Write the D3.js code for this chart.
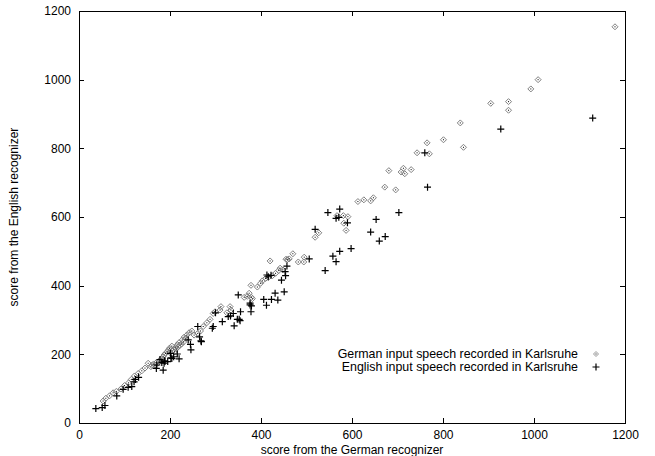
<!DOCTYPE html>
<html><head><meta charset="utf-8">
<script src="https://cdn.jsdelivr.net/npm/d3@7/dist/d3.min.js"></script>
<style>
html,body{margin:0;padding:0;background:#fff;}
svg{display:block;font-family:"Liberation Sans",Arial,Helvetica,sans-serif;}
</style></head>
<body>
<svg id="chart" width="655" height="456"></svg>
<script>
const xTicks = [0, 200, 400, 600, 800, 1000, 1200];
const yTicks = [0, 200, 400, 600, 800, 1000, 1200];
const xLabel = "score from the German recognizer";
const yLabel = "score from the English recognizer";
const seriesNames = ["German input speech recorded in Karlsruhe", "English input speech recorded in Karlsruhe"];

const germanX = [53,59,67,75,82,92,100,109,115,122,130,138,145,152,158,160,164,167,170,173,176,180,182,185,187,190,195,196,199,200,204,205,208,210,212,214,216,218,220,222,225,227,230,231,235,237,242,248,253,261,267,273,281,288,295,299,310,312,325,332,334,363,370,374,379,381,378,392,399,403,410,416,420,425,432,439,442,448,455,458,462,470,482,494,495,519,527,567,581,591,582,587,613,626,641,647,672,696,681,708,713,716,730,743,765,770,801,838,845,905,944,944,993,1009,1178];
const germanY = [64,72,79,88,92,99,109,117,127,137,144,152,160,174,164,168,172,169,176,174,181,186,188,193,198,203,208,212,218,205,224,210,214,207,220,216,228,222,234,226,230,242,236,250,247,256,263,268,256,261,268,281,292,302,319,324,329,339,321,339,329,366,369,378,366,362,401,396,407,414,421,424,472,429,436,444,451,446,477,476,478,493,469,469,483,541,554,604,604,601,582,561,645,650,647,656,687,679,735,731,742,726,738,787,816,784,825,874,803,931,936,911,973,1000,1154];

const englishX = [37,51,57,83,97,108,116,121,124,131,170,171,185,182,188,195,178,187,189,201,204,208,216,220,202,245,246,240,269,265,268,261,293,295,315,300,328,333,339,341,350,352,354,348,355,378,376,379,376,406,412,423,437,431,451,413,416,422,445,454,457,453,506,541,565,558,573,598,519,547,573,565,571,590,653,641,660,673,703,760,766,927,1129];
const englishY = [42,45,51,79,98,104,106,120,127,133,159,169,154,176,181,179,185,174,179,203,188,193,201,187,190,229,213,242,237,251,239,281,276,281,295,321,310,312,319,283,373,302,298,302,324,324,344,341,349,360,343,360,358,378,382,431,426,430,416,429,457,441,478,444,470,486,500,508,564,613,623,596,599,583,593,556,530,543,613,787,687,856,888];

const svg = d3.select("#chart");
const x = d3.scaleLinear().domain([0, 1200]).range([79, 625]);
const y = d3.scaleLinear().domain([0, 1200]).range([423, 11]);
const tk = 5;

const axFont = g => g.attr("font-family", "Liberation Sans, Arial, sans-serif").attr("font-size", 12);

// bottom axis
svg.append("g").attr("transform", `translate(0,${y(0)})`)
  .call(d3.axisBottom(x).tickValues(xTicks).tickSize(-tk).tickPadding(7).tickFormat(d3.format("d")))
  .call(axFont)
  .call(g => g.select(".domain").remove())
  .call(g => g.selectAll("text").attr("fill", "#000"));
// top axis (mirror)
svg.append("g").attr("transform", `translate(0,${y(1200)})`)
  .call(d3.axisTop(x).tickValues(xTicks).tickSize(-tk).tickFormat(""))
  .call(g => g.select(".domain").remove());
// left axis
svg.append("g").attr("transform", `translate(${x(0)},0)`)
  .call(d3.axisLeft(y).tickValues(yTicks).tickSize(-tk).tickPadding(8).tickFormat(d3.format("d")))
  .call(axFont)
  .call(g => g.select(".domain").remove())
  .call(g => g.selectAll("text").attr("fill", "#000"));
// right axis (mirror)
svg.append("g").attr("transform", `translate(${x(1200)},0)`)
  .call(d3.axisRight(y).tickValues(yTicks).tickSize(-tk).tickFormat(""))
  .call(g => g.select(".domain").remove());

svg.selectAll(".tick line").attr("stroke", "#000").attr("shape-rendering", "crispEdges");

// border
svg.append("rect")
  .attr("x", x(0)).attr("y", y(1200))
  .attr("width", x(1200) - x(0)).attr("height", y(0) - y(1200))
  .attr("fill", "none").attr("stroke", "#000").attr("stroke-width", 1)
  .attr("shape-rendering", "crispEdges");

// axis titles
svg.append("text").attr("x", (x(0) + x(1200)) / 2).attr("y", 454)
  .attr("text-anchor", "middle").attr("font-size", 12).attr("fill", "#000").text(xLabel);
svg.append("text").attr("transform", `translate(18,${(y(0) + y(1200)) / 2}) rotate(-90)`)
  .attr("text-anchor", "middle").attr("font-size", 12).attr("fill", "#000").text(yLabel);

// markers
function diamond(g, cx, cy, r, col) {
  g.append("path").attr("d", `M${cx},${cy - r}L${cx + r},${cy}L${cx},${cy + r}L${cx - r},${cy}Z`)
    .attr("fill", "none").attr("stroke", col).attr("stroke-width", 1);
  g.append("rect").attr("x", cx - 0.5).attr("y", cy - 0.5).attr("width", 1).attr("height", 1).attr("fill", "#000");
}
function plus(g, cx, cy, r) {
  g.append("path").attr("d", `M${cx - r},${cy}H${cx + r}M${cx},${cy - r}V${cy + r}`)
    .attr("stroke", "#000").attr("stroke-width", 1.2).attr("fill", "none");
}

const gG = svg.append("g");
germanX.forEach((d, i) => diamond(gG, x(d), y(germanY[i]), 3, "#808080"));
const gE = svg.append("g");
englishX.forEach((d, i) => plus(gE, x(d), y(englishY[i]), 3.5));

// legend
const lg = svg.append("g");
seriesNames.forEach((name, i) => {
  const ly = 354 + i * 13;
  lg.append("text").attr("x", 578).attr("y", ly).attr("dy", "0.35em")
    .attr("text-anchor", "end").attr("font-size", 12.4).attr("fill", "#000").text(name);
  if (i === 0) diamond(lg, 596, ly, 2.5, "#9a9a9a");
  else plus(lg, 596, ly, 3.5);
});
</script>
</body></html>
